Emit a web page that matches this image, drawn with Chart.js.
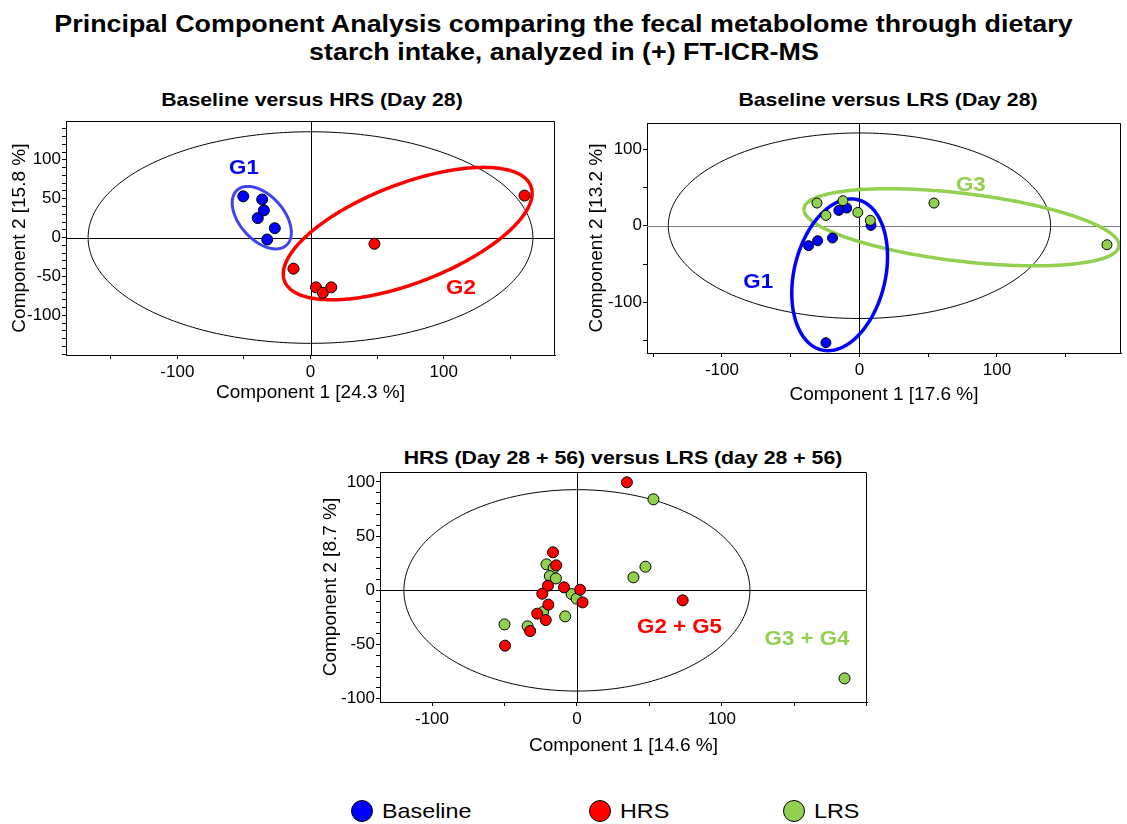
<!DOCTYPE html>
<html>
<head>
<meta charset="utf-8">
<script src="https://cdn.jsdelivr.net/npm/chart.js@4.4.1/dist/chart.umd.min.js"></script>
<style>
  html, body { margin:0; padding:0; background:#fff; }
  body { width:1127px; height:824px; position:relative; overflow:hidden; font-family:'Liberation Sans', Arial, sans-serif; color:#000; }
  canvas { position:absolute; }
  .bt { position:absolute; white-space:nowrap; font-weight:bold; line-height:1; transform:translate(-50%,-50%) scaleX(1.15); }
  #mainTitle { position:absolute; left:0; top:10px; width:1127px; text-align:center; font-weight:bold; font-size:23.5px; line-height:28px; }
  #mainTitle span { display:inline-block; transform:scaleX(1.143); white-space:nowrap; }
  .lg { position:absolute; top:811px; transform:translateY(-50%); display:flex; align-items:center; }
  .dot { width:22px; height:22px; border-radius:50%; border:1px solid #000; box-sizing:border-box; }
  .lgt { font-size:21px; margin-left:9px; display:inline-block; transform:scaleX(1.11); transform-origin:left center; }
</style>
</head>
<body>
<div id="mainTitle"><span>Principal Component Analysis comparing the fecal metabolome through dietary</span><br><span>starch intake, analyzed in (+) FT-ICR-MS</span></div>
<div class="bt" style="left:311.5px; top:100px; font-size:18.5px;">Baseline versus HRS (Day 28)</div>
<div class="bt" style="left:887.5px; top:100px; font-size:18.5px;">Baseline versus LRS (Day 28)</div>
<div class="bt" style="left:622.5px; top:458px; font-size:18.5px;">HRS (Day 28 + 56) versus LRS (day 28 + 56)</div>

<canvas id="cA" width="575" height="300" style="left:0px; top:110px;"></canvas>
<canvas id="cB" width="552" height="300" style="left:575px; top:110px;"></canvas>
<canvas id="cC" width="590" height="300" style="left:300px; top:460px;"></canvas>

<div class="lg" style="left:351px;"><div class="dot" style="background:#0000ff"></div><span class="lgt">Baseline</span></div>
<div class="lg" style="left:589px;"><div class="dot" style="background:#ff0000"></div><span class="lgt">HRS</span></div>
<div class="lg" style="left:783px;"><div class="dot" style="background:#92d050"></div><span class="lgt">LRS</span></div>

<script>
// ---------------- DATA ----------------
// Panel A: Baseline versus HRS (Day 28)
const a_baseline_x = [-50.5, -36.3, -35.0, -39.6, -26.8, -32.5];
const a_baseline_y = [53, 49, 35, 25, 12, -2.5];
const a_hrs_x = [160.7, 48.0, -12.8, 4.1, 9.3, 15.6];
const a_hrs_y = [54, -8, -40, -64, -71, -64];
// ellipses: [centre x, centre y, axis1 dx, axis1 dy, axis2 dx, axis2 dy] in component units
const a_ellipse_all = [0, 0, 167, 0, 0, 136];
const a_ellipse_g1 = [-36.6, 25.6, 17.3, -37.0, -13.9, -15.7];
const a_ellipse_g2 = [73.0, 5.1, 92.0, 62.9, 16.3, -57.4];

// Panel B: Baseline versus LRS (Day 28)
const b_baseline_x = [-9.3, -15.0, 8.4, -37.0, -30.4, -19.6, -24.4];
const b_baseline_y = [23, 20, 0.4, -26, -19.6, -16, -152.6];
const b_lrs_x = [-30.9, -12.0, -24.4, -1.2, 7.9, 54.2, 180.0];
const b_lrs_y = [29.6, 32.6, 13.5, 17.4, 7.0, 29.6, -24.8];
const b_ellipse_all = [0, 0, 139, 0, 0, 121];
const b_ellipse_g3 = [74.2, -2.0, 114.5, -24.6, -3.2, -43.9];
const b_ellipse_g1 = [-14.4, -64.0, 12.5, 98.2, 32.5, -12.1];

// Panel C: HRS (Day 28 + 56) versus LRS (day 28 + 56)
const c_hrs_x = [34.5, -16.5, -14.3, -20.0, -8.9, 2.2, -23.9, 3.9, -19.7, -27.4, -21.5, -32.3, -49.6, 73.0];
const c_hrs_y = [99.7, 35.1, 23.1, 4.3, 2.8, 0.6, -3.1, -11.1, -13.2, -21.5, -27.4, -37.5, -51.0, -9.2];
const c_lrs_x = [52.8, 47.3, 39.0, -21.0, -16.0, -18.7, -14.5, -3.7, -0.2, -23.4, -8.1, -34.0, -50.0, 184.7];
const c_lrs_y = [84.0, 21.8, 12.0, 24.0, 20.6, 13.2, 11.0, -3.4, -7.7, -20.0, -24.0, -33.2, -31.4, -81.2];
const c_ellipse_all = [0, 0, 119.4, 0, 0, 92.9];

// axis titles
const a_xTitle = 'Component 1 [24.3 %]', a_yTitle = 'Component 2 [15.8 %]';
const b_xTitle = 'Component 1 [17.6 %]', b_yTitle = 'Component 2 [13.2 %]';
const c_xTitle = 'Component 1 [14.6 %]', c_yTitle = 'Component 2 [8.7 %]';

// ---------------- RENDERING ----------------
const BLUE = '#0000ff', RED = '#ff0000', GREEN = '#92d050';
const pts = (xs, ys) => xs.map((x, i) => ({x, y: ys[i]}));

const overlay = {
  id: 'overlay',
  beforeDatasetsDraw(chart, args, o) {
    const {ctx, chartArea: ca, scales: {x, y}} = chart;
    ctx.save();
    ctx.beginPath(); ctx.rect(ca.left, ca.top, ca.right - ca.left, ca.bottom - ca.top); ctx.clip();
    const x0 = Math.round(x.getPixelForValue(0)) + 0.5;
    const y0 = Math.round(y.getPixelForValue(0)) + 0.5;
    ctx.lineWidth = 1;
    ctx.strokeStyle = o.vColor; ctx.beginPath(); ctx.moveTo(x0, ca.top); ctx.lineTo(x0, ca.bottom); ctx.stroke();
    ctx.strokeStyle = o.hColor; ctx.beginPath(); ctx.moveTo(ca.left, y0); ctx.lineTo(ca.right, y0); ctx.stroke();
    for (const e of o.ellipses) {
      const p = e.p;
      ctx.beginPath();
      for (let i = 0; i <= 360; i++) {
        const t = i * Math.PI / 180;
        const vx = p[0] + p[2] * Math.cos(t) + p[4] * Math.sin(t);
        const vy = p[1] + p[3] * Math.cos(t) + p[5] * Math.sin(t);
        const px = x.getPixelForValue(vx), py = y.getPixelForValue(vy);
        if (i === 0) ctx.moveTo(px, py); else ctx.lineTo(px, py);
      }
      ctx.closePath();
      ctx.strokeStyle = e.color; ctx.lineWidth = e.width; ctx.stroke();
    }
    ctx.restore();
  },
  afterDatasetsDraw(chart, args, o) {
    const {ctx, chartArea: ca, scales: {x, y}} = chart;
    ctx.save();
    ctx.strokeStyle = '#000'; ctx.lineWidth = 1;
    ctx.beginPath();
    ctx.moveTo(Math.round(ca.left) + 0.5, Math.round(ca.top) + 0.5);
    ctx.lineTo(Math.round(ca.right) - 0.5, Math.round(ca.top) + 0.5);
    ctx.lineTo(Math.round(ca.right) - 0.5, Math.round(ca.bottom));
    ctx.stroke();
    for (const l of o.labels) {
      const px = x.getPixelForValue(l.x), py = y.getPixelForValue(l.y);
      ctx.save();
      ctx.translate(px, py);
      ctx.scale(1.115, 1);
      ctx.font = 'bold 20px "Liberation Sans", Arial, sans-serif';
      ctx.fillStyle = l.color; ctx.textAlign = 'center'; ctx.textBaseline = 'middle';
      ctx.fillText(l.text, 0, 0);
      ctx.restore();
    }
    ctx.restore();
  }
};

const tickFont = {family: "'Liberation Sans Narrow', 'Liberation Sans', Arial, sans-serif", size: 17};
const titleFont = {family: "'Liberation Sans', Arial, sans-serif", size: 19};

// tick marks at every multiple of `step` that lies inside the axis range
function stepTicks(step) {
  return s => {
    const out = [];
    for (let k = Math.ceil(s.min / step); k <= Math.floor(s.max / step); k++) out.push({value: k * step});
    s.ticks = out;
  };
}

function axes(c) {
  return {
    x: {
      type: 'linear', position: 'bottom', min: c.xmin, max: c.xmax,
      afterBuildTicks: stepTicks(c.xstep),
      afterFit: s => { s.height = c.xh; },
      ticks: {autoSkip: false, maxRotation: 0, color: '#000', font: tickFont, padding: 3,
              callback: v => (v % c.xlab === 0 && Math.abs(v) <= 100 ? String(v) : '')},
      grid: {drawOnChartArea: false, drawTicks: true, tickLength: 4, color: '#000', tickColor: '#000'},
      border: {display: true, color: '#000', width: 1},
      title: {display: true, text: c.xt, color: '#000', font: titleFont, padding: {top: 0, bottom: c.xpb}}
    },
    y: {
      type: 'linear', position: 'left', min: c.ymin, max: c.ymax,
      afterBuildTicks: stepTicks(c.ystep),
      afterFit: s => { s.width = c.yw; },
      ticks: {autoSkip: false, color: '#000', font: tickFont, padding: 1,
              callback: v => (v % c.ylab === 0 && Math.abs(v) <= 100 ? String(v) : '')},
      grid: {drawOnChartArea: false, drawTicks: true, tickLength: 4, color: '#000', tickColor: '#000'},
      border: {display: true, color: '#000', width: 1},
      title: {display: true, text: c.yt, color: '#000', font: titleFont, padding: {top: c.ypt, bottom: 0}}
    }
  };
}

function ds(label, data, color, order, r) {
  return {label, data, backgroundColor: color, borderColor: '#000', borderWidth: 1, pointRadius: r, pointHoverRadius: r, order};
}

function make(id, datasets, ax, pad, ov) {
  return new Chart(document.getElementById(id), {
    type: 'scatter',
    data: {datasets},
    options: {
      responsive: false, animation: false, devicePixelRatio: 1,
      layout: {padding: pad},
      scales: axes(ax),
      plugins: {legend: {display: false}, tooltip: {enabled: false}, title: {display: false}, overlay: ov}
    },
    plugins: [overlay]
  });
}

make('cA',
  [ds('Baseline', pts(a_baseline_x, a_baseline_y), BLUE, 1, 5.5), ds('HRS', pts(a_hrs_x, a_hrs_y), RED, 2, 5.5)],
  {xmin: -183.6, xmax: 183.6, ymin: -151, ymax: 149.6, xstep: 50, xlab: 100, ystep: 10, ylab: 50, xh: 55, yw: 66, xpb: 5.6, ypt: 8, xt: a_xTitle, yt: a_yTitle},
  {left: 0, top: 8, right: 20, bottom: 0},
  {vColor: '#000', hColor: '#000',
   ellipses: [{p: a_ellipse_all, color: '#000', width: 1}, {p: a_ellipse_g1, color: '#3f45ee', width: 3}, {p: a_ellipse_g2, color: RED, width: 3.5}],
   labels: [{text: 'G1', x: -50, y: 89, color: BLUE}, {text: 'G2', x: 113, y: -65, color: RED}]}
);

make('cB',
  [ds('Baseline', pts(b_baseline_x, b_baseline_y), BLUE, 2, 5), ds('LRS', pts(b_lrs_x, b_lrs_y), GREEN, 1, 5)],
  {xmin: -154.5, xmax: 190.2, ymin: -166, ymax: 134, xstep: 50, xlab: 100, ystep: 50, ylab: 100, xh: 57, yw: 72, xpb: 3.6, ypt: 10.6, xt: b_xTitle, yt: b_yTitle},
  {left: 0, top: 13, right: 0, bottom: 0},
  {vColor: '#000', hColor: '#808080',
   ellipses: [{p: b_ellipse_all, color: '#000', width: 1}, {p: b_ellipse_g3, color: GREEN, width: 3.5}, {p: b_ellipse_g1, color: BLUE, width: 3.5}],
   labels: [{text: 'G3', x: 81, y: 52.7, color: GREEN}, {text: 'G1', x: -73.6, y: -74, color: BLUE}]}
);

make('cC',
  [ds('HRS', pts(c_hrs_x, c_hrs_y), RED, 1, 5.5), ds('LRS', pts(c_lrs_x, c_lrs_y), GREEN, 2, 5.5)],
  {xmin: -135.9, xmax: 200.2, ymin: -103, ymax: 109.2, xstep: 50, xlab: 100, ystep: 10, ylab: 50, xh: 58, yw: 80, xpb: 2.6, ypt: 19.6, xt: c_xTitle, yt: c_yTitle},
  {left: 0, top: 12, right: 23, bottom: 0},
  {vColor: '#000', hColor: '#000',
   ellipses: [{p: c_ellipse_all, color: '#000', width: 1}],
   labels: [{text: 'G2 + G5', x: 70.8, y: -33.8, color: RED}, {text: 'G3 + G4', x: 158.8, y: -45, color: GREEN}]}
);
</script>
</body>
</html>
